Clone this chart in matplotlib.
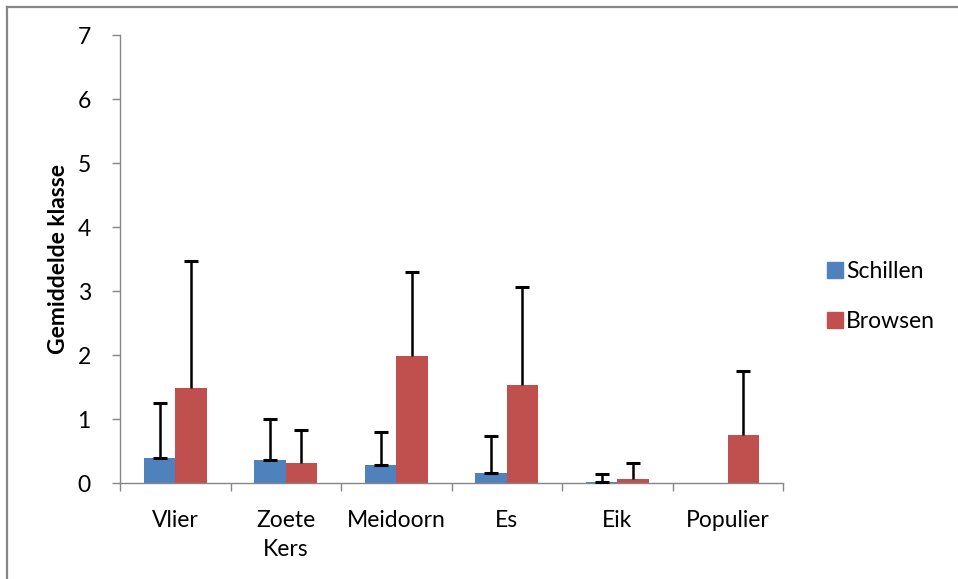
import numpy as np
import matplotlib
matplotlib.use("Agg")
import matplotlib.pyplot as plt
from matplotlib.lines import Line2D

categories = ["Vlier", "Zoete\nKers", "Meidoorn", "Es", "Eik", "Populier"]
schillen = [0.40, 0.36, 0.28, 0.16, 0.02, 0.0]
schillen_err = [0.85, 0.64, 0.52, 0.58, 0.13, np.nan]
browsen = [1.49, 0.32, 1.99, 1.54, 0.07, 0.76]
browsen_err = [1.99, 0.52, 1.31, 1.52, 0.24, 0.99]
series_names = ["Schillen", "Browsen"]
yticks = [0, 1, 2, 3, 4, 5, 6, 7]
ylabel = "Gemiddelde klasse"

BLUE = "#4F81BD"
RED = "#C0504D"
GRAY = "#868686"
FONT = ["Lato", "DejaVu Sans"]
FS = 16.5

plt.rcParams["font.family"] = FONT

fig = plt.figure(figsize=(9.58, 5.79), dpi=100)
ax = fig.add_axes([120 / 958, 95.7 / 579, 663 / 958, 448 / 579])

x = np.arange(len(categories))
w = 0.285
s = np.array(schillen)
b = np.array(browsen)
se = np.array(schillen_err)
be = np.array(browsen_err)

ax.bar(x - w / 2, s, w, color=BLUE, label=series_names[0], zorder=2)
ax.bar(x + w / 2, b, w, color=RED, label=series_names[1], zorder=2)

# Schillen: caps at both the bar top and the upper end (only where an error exists)
m = ~np.isnan(se)
ax.errorbar((x - w / 2)[m], s[m], yerr=[np.zeros(m.sum()), se[m]], fmt="none",
            ecolor="black", elinewidth=1.8, capsize=4.7, capthick=2.2, zorder=3)
# Browsen: cap only at the upper end
ax.vlines(x + w / 2, b, b + be, colors="black", linewidth=1.8, zorder=3)
ax.plot(x + w / 2, b + be, linestyle="none", marker="_", markersize=9.4,
        markeredgewidth=2.2, color="black", zorder=3)

ax.set_xlim(-0.5, len(categories) - 0.5)
ax.set_ylim(0, 7)
ax.set_yticks(yticks)
ax.set_yticklabels([str(t) for t in yticks], fontsize=FS)
ax.set_xticks(x)
ax.set_xticklabels(categories, fontsize=FS, linespacing=1.5)
ax.set_xticks(np.arange(-0.5, len(categories)), minor=True)
ax.tick_params(axis="x", which="major", length=0, pad=19)
ax.tick_params(axis="x", which="minor", length=6, width=1, color=GRAY, direction="out")
ax.tick_params(axis="y", length=6, width=1, color=GRAY, direction="out", pad=15)

for sp in ["top", "right"]:
    ax.spines[sp].set_visible(False)
for sp in ["left", "bottom"]:
    ax.spines[sp].set_color(GRAY)
    ax.spines[sp].set_linewidth(1)

ax.set_ylabel(ylabel, fontsize=FS, fontweight="bold", labelpad=6)

handles = [
    Line2D([], [], linestyle="none", marker="s", markersize=11, color=BLUE),
    Line2D([], [], linestyle="none", marker="s", markersize=11, color=RED),
]
fig.legend(handles, series_names, loc="upper left", bbox_to_anchor=(814 / 958, 1 - 252 / 579),
           frameon=False, fontsize=FS, handletextpad=0.0, labelspacing=1.25,
           handlelength=1.0, borderaxespad=0)

# outer chart frame (top and left edges visible)
fig.add_artist(Line2D([7 / 958, 1], [1 - 7 / 579, 1 - 7 / 579], color=GRAY, linewidth=1.6,
                      transform=fig.transFigure))
fig.add_artist(Line2D([7 / 958, 7 / 958], [0, 1 - 7 / 579], color=GRAY, linewidth=1.6,
                      transform=fig.transFigure))

fig.savefig("out.png", dpi=100)
